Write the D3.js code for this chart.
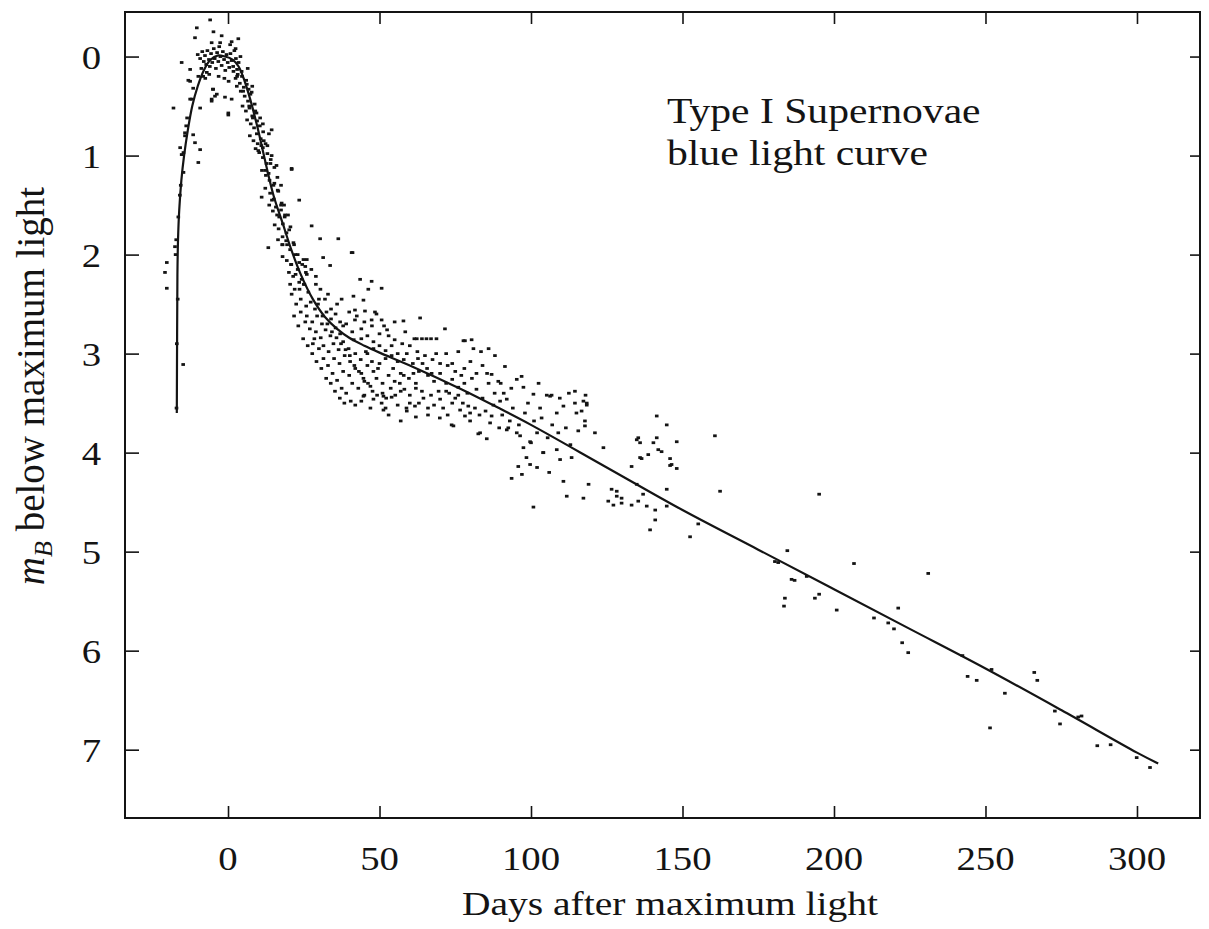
<!DOCTYPE html>
<html>
<head>
<meta charset="utf-8">
<script src="https://cdn.jsdelivr.net/npm/d3@7"></script>
<style>
html,body{margin:0;padding:0;background:#fff;}
</style>
</head>
<body>
<svg id="chart" width="1209" height="929" font-family="Liberation Serif, Times New Roman, Tinos, serif"></svg>
<script>
// ---------- data ----------
const xTicks = [0, 50, 100, 150, 200, 250, 300];
const yTicks = [0, 1, 2, 3, 4, 5, 6, 7];
const xTitle = "Days after maximum light";
const annotationLines = ["Type I Supernovae", "blue light curve"];

// mean light curve (days, magnitudes below maximum)
const fitDays = [-16.9,-16.8,-16.7,-16.5,-16.1,-15.4,-14.5,-13.3,-11.8,-10,-8,-6,-3.5,-1,1.5,3.5,5.5,7.5,10,12,15,18,21,24,28,32,36,40,45,50,60,77,90,100,125,150,175,200,225,250,275,300,307];
const fitMags = [3.6,2.8,2.2,1.85,1.55,1.25,1.0,0.75,0.5,0.3,0.14,0.04,-0.01,0.0,0.03,0.1,0.25,0.45,0.75,1.02,1.4,1.68,1.96,2.2,2.45,2.63,2.75,2.84,2.92,2.99,3.12,3.36,3.56,3.72,4.15,4.58,4.98,5.38,5.78,6.18,6.6,7.03,7.14];

// observed points [day, mag]
const riseObs = [[-20.2,2.08],[-20.8,2.18],[-20.2,2.34],[-14.8,3.11],[-17.5,1.92],[-17.3,2.0],[-17.1,1.85],[-17.0,3.55],[-16.9,2.9],[-16.6,2.45],[-16.4,1.62],[-18,0.52],[-15.3,0.06],[-13.1,0.24],[-14.2,0.77],[-15.8,0.92],[-15.3,0.99],[-14.7,0.97],[-14.7,1.17],[-9.8,1.07],[-9.2,0.94],[-10.9,0.87],[-12.5,0.43],[-11.5,0.32],[-9.2,0.52],[-8.2,0.2],[-12.5,0.13],[-12.5,0.25],[-11.5,0.79],[-14.2,0.8],[-12,0.43],[-10.3,-0.29],[-10.9,-0.19],[-5.9,-0.37],[-4.8,-0.25],[-5.4,-0.14],[-9.8,0.2],[-7,0.16],[-5,0.33],[-3.7,0.38],[-5.4,0.43],[-4.9,0.33],[-4.3,0.4],[-5.4,0.45],[-13.5,0.62],[-13.8,0.7],[-15.6,1.3],[-15.9,1.4]];
const peakObs = [[-10,-0.02],[-9.2,0.02],[-8.5,-0.05],[-8,0.05],[-7.6,-0.01],[-7.2,0.08],[-6.8,-0.06],[-6.3,0.03],[-6,0.1],[-5.6,-0.03],[-5.2,0.06],[-4.7,-0.08],[-4.4,0.02],[-4,0.12],[-3.6,-0.04],[-3.2,0.05],[-2.9,-0.1],[-2.5,0.0],[-2.1,0.09],[-1.7,-0.05],[-1.3,0.03],[-0.9,0.14],[-0.5,-0.02],[-0.1,0.06],[0.4,0.11],[0.8,-0.03],[1.2,0.04],[1.7,0.1],[2.1,-0.06],[2.6,0.02],[3.0,0.13],[3.5,0.06],[-2.6,-0.14],[0.7,-0.12],[3.4,-0.18],[-2.1,-0.21],[-8.8,0.12],[-7.5,0.22],[-6.2,0.18],[1.2,-0.15],[2.5,-0.08],[4.1,0.0],[-1.2,0.22],[0.2,0.25],[-3.1,0.2]];
const earlyDeclineObs = [[1.8,0.15],[2.5,0.22],[3.2,0.18],[3.9,0.27],[4.6,0.2],[5.2,0.31],[6.0,0.24],[6.8,0.33],[2.9,0.3],[4.2,0.35],[5.5,0.4],[6.6,0.45],[7.4,0.38],[4.8,0.5],[5.9,0.55],[7.1,0.52],[8.0,0.6],[8.8,0.48],[9.4,0.57],[6.3,0.64],[7.5,0.68],[8.6,0.72],[9.6,0.65],[10.5,0.7],[7.2,0.8],[8.4,0.85],[9.5,0.78],[10.8,0.83],[11.6,0.76],[12.4,0.88],[9.1,0.93],[10.3,0.97],[11.5,0.92],[13.0,0.98],[14.4,0.74],[1.2,0.43],[0.1,0.59],[-1,0.41],[0.1,0.57],
  [10,0.95],[11.5,1.02],[12.7,1.08],[14.1,1.04],[15.3,1.12],[11.2,1.15],[12.5,1.2],[13.7,1.25],[15,1.3],[16.3,1.22],[12.3,1.33],[13.9,1.38],[15.1,1.44],[16.6,1.36],[17.7,1.48],[13.6,1.5],[14.8,1.56],[16.2,1.6],[17.5,1.55],[18.7,1.62],[15.4,1.7],[16.7,1.74],[18.1,1.69],[19.3,1.78],[20.6,1.72],[16.5,1.85],[17.9,1.9],[19.2,1.86],[20.5,1.95],[21.8,1.9],[18,2.02],[19.4,2.06],[20.9,2.1],[22.2,2.0],[23.5,2.08],[24.9,2.05],[20.1,2.18],[21.5,2.22],[23,2.15],[24.3,2.25],[25.7,2.18],
  [21,1.13],[23.5,1.45],[27.6,1.71],[30.4,1.84],[36.4,1.84],[41.1,1.98],[31.4,2.03],[33.7,2.11],[13.3,1.93],[11.1,1.42],[21,1.14],[17.5,1.3],[18.5,1.5],[19.8,1.6],[25.5,2.12],[14.4,1.0],[16.0,1.1],
  [3,0.2],[4.5,0.15],[5,0.35],[6.2,0.28],[7,0.5],[7.8,0.36],[8.2,0.62],[9,0.55],[9.8,0.88],[10.6,0.62],[11,0.9],[11.8,0.85],[12.3,1.15],[13,0.9],[13.4,1.18],[14,1.08],[14.5,1.45],[15.3,1.28],[15.8,1.52],[16.4,1.35],[16.9,1.62],[17.5,1.5],[18,1.82],[18.8,1.6],[19.5,1.9],[20.2,1.75],[20.8,2.1],[21.6,1.88],[22.3,2.2],[23,2.0],[23.6,2.35],[24.5,2.1],[25.2,2.3],[26,2.2],[8,0.3],[6.5,0.12],[11.5,0.68],[13.5,0.78]];
const shoulderObs = [[18,1.9],[20.5,2.3],[22,2.35],[23.5,2.28],[25,2.3],[26.5,2.38],[24,2.45],[25.8,2.52],[27.3,2.48],[28.7,2.55],[30,2.45],[26,2.62],[27.8,2.68],[29.4,2.62],[31,2.7],[32.5,2.58],[34,2.65],[29,2.78],[30.6,2.84],[32.2,2.76],[33.8,2.82],[35.5,2.74],[37,2.8],[31.5,2.92],[33.2,2.98],[34.8,2.9],[36.5,2.96],[38,2.88],[39.8,2.95],[41.5,2.86],[35,3.05],[36.8,3.1],[38.5,3.02],[40.3,3.08],[42,3.0],[43.8,3.06],[45.5,2.98],[38,3.18],[40,3.22],[42,3.15],[44,3.2],[46,3.12],[48,3.18],[50,3.1],[41,3.3],[43,3.35],[45,3.28],[47,3.33],[49,3.25],[51,3.3],[53,3.22],[55,3.28],[45,3.42],[48,3.46],[51,3.4],[54,3.44],[57,3.38],[60,3.42],[52,3.55],[56,3.52],[59,3.58],[63,3.5],[66,3.55],[29,2.3],[33,2.4],[36,2.5],[37.5,2.45],[40,2.58],[42.5,2.62],[45,2.68],[47.5,2.72],[50,2.8],[52.5,2.76],[55,2.86],[57.5,2.9],[60,2.92],[62.5,2.98],[65,3.02],[67.5,3.06],[70,3.1],[72.5,3.12],[75,3.18],[77,3.22],[43.6,2.25],[47.4,2.27],[50.7,2.34],[46.3,2.35],[41.4,2.42],[44.7,2.46],[41.9,2.56],[45.2,2.57],[48.5,2.58],[41.9,2.66],[47.4,2.66],[50.7,2.66],[57.9,2.67],[63.4,2.64],[71.6,2.75],[62.3,2.85],[64,2.85],[65.5,2.85],[67,2.85],[68.8,2.85],[78.2,2.87],[80.4,2.86],[40.8,1.98],[54,2.92],[56,3.0],[58,3.06],[61,3.1],[63,3.18],[66,3.22],[68,3.28],[70,3.2],[72,3.3],[74,3.26],[76,3.34],[78,3.3],[52,3.05],[48,2.95],[44,2.85],[41,2.78],[38,2.72],[46,3.0],[58,3.22],[62,3.3],[64,3.38],[67,3.42],[70,3.46],[73,3.4],[60,3.5],[53,3.62],[57,3.68],[62,3.64],[47,3.55],[44,3.48],[82.6,3.81],[85.4,3.86],[73.8,3.72],[69.9,3.65],[58.9,3.55],[61.7,3.53],[51.3,3.57],[44.7,3.43],[51.3,3.43],
  [21,2.4],[22.5,2.5],[24,2.58],[25.5,2.68],[27,2.75],[28.5,2.85],[30,2.95],[31.5,3.05],[33,3.12],[34.5,3.2],[36,3.27],[37.5,3.35],[39,3.4],[40.5,3.48],[42,3.52],[26,2.05],[27.5,2.15],[29,2.22],[30.5,2.35],[32,2.45],[34,2.55],[35.5,2.6],[37,2.68],[39,2.7],[21.8,2.62],[23.2,2.72],[24.8,2.85],[26.3,2.92],[27.8,3.0],[29.2,3.08],[30.8,3.15],[32.4,3.25],[33.9,3.3],[35.3,3.38],[36.9,3.45],[38.4,3.5],[28,2.9],[29.7,2.5],[31.2,2.62],[32.8,2.7],[34.3,2.78],[35.8,2.84],[37.3,2.9],[38.8,2.96],[40.2,3.02],[41.7,3.12],[43.2,3.18],[44.7,3.25],[46.2,3.3],[47.7,3.38],[49.2,3.42],[50.7,3.5],[52.2,3.45],[53.7,3.35],[55.2,3.42],[56.7,3.3],[58.2,3.36],[59.7,3.25],[61.2,3.2],[62.7,3.05],[64.2,3.1],[65.7,3.15],[67.2,3.2],[68.7,3.0],[44,2.75],[46,2.82],[48,2.88],[50,2.92],[52,2.97],[54,3.02],[56,3.08],[49,2.6],[51.5,2.72],[53,2.82],[55,2.68],[58.5,2.78],[61.5,2.85],[59,3.0],[47.5,3.08],[49.5,3.15],[54.5,3.15],[57,3.2]];
const plateauObs = [[77.7,2.87],[88.1,3.02],[91.4,3.13],[87,3.21],[89.2,3.28],[95.3,3.26],[96.9,3.23],[97.5,3.34],[100.8,3.41],[105.2,3.42],[106.8,3.42],[103,3.55],[108.5,3.6],[110.7,3.53],[114.5,3.5],[117.3,3.48],[118.4,3.5],[115,3.6],[116.7,3.58],[117.8,3.68],[117.8,3.73],[121.1,3.8],[115.6,3.78],[92,3.46],[87.6,3.52],[89.8,3.48],[87,3.63],[95.3,3.8],[96.4,3.83],[92.5,3.75],[74.4,3.73],[78.2,3.63],[79.9,3.6],[79.9,3.68],[83.2,3.8],[76.6,3.57],[79.3,3.53],[72,3.0],[74,3.1],[76,2.98],[78,3.15],[80,3.08],[82,3.2],[84,3.12],[72,3.38],[75,3.45],[79,3.4],[82,3.36],[84,3.45],[86,3.3],[91,3.4],[94,3.55],[98,3.6],[101,3.68],[100,3.9],[104,4.0],[108.5,3.97],[92,3.77],[99.7,3.89],[104.1,4.0],[113.4,4.05],[109.6,4.07],[95.8,4.14],[99.7,4.12],[93.6,4.26],[110.7,4.29],[119,4.32],[126.6,4.37],[128.3,4.44],[111.8,4.44],[117.3,4.46],[106.3,3.43],[118.4,3.52],[100.8,4.55],
  [62,3.35],[64.5,3.45],[66,3.62],[68,3.52],[69.5,3.38],[71,3.55],[72.5,3.62],[74,3.5],[76,3.42],[77.5,3.5],[80.5,3.25],[81.5,3.55],[83,3.62],[85,3.58],[86.5,3.7],[88,3.4],[89.5,3.75],[90.5,3.62],[93,3.68],[96,3.72],[97.5,3.95],[99,3.5],[102,3.8],[103.5,3.65],[105.5,3.85],[107,3.72],[109,3.8],[111.5,3.75],[113,3.92],[86,2.95],[83.5,2.98],[81,2.95],[85.5,3.2],[90,3.3],[93.5,3.35],[102.5,3.3],[109.5,3.45],[112.5,3.4],[114.5,3.38],[118,3.42],[98.5,4.05],[102,4.15],[106,4.2],[97,4.22]];
const knotObs = [[123.9,3.95],[134.9,3.87],[135.4,3.85],[140.4,3.9],[141.5,3.85],[148.1,3.89],[142,3.97],[143.1,3.99],[138.7,4.02],[136.5,4.06],[145.9,4.06],[145.9,4.13],[148.1,4.16],[133.2,4.14],[141.5,3.63],[144.8,3.72],[128.3,4.39],[125.5,4.49],[127.2,4.53],[129.9,4.46],[129.9,4.51],[133.2,4.53],[135.4,4.49],[138.2,4.54],[137,4.42],[144.8,4.37],[144.8,4.54],[141,4.58],[141,4.68],[139.3,4.78],[155.2,4.72],[152.5,4.85],[160.7,3.83],[162.4,4.39],[136,3.9],[146.4,4.12],[136,4.05],[134.9,4.32]];
const tailObs = [[184.6,4.99],[180.5,5.1],[181.6,5.11],[186,5.28],[187,5.29],[183.8,5.47],[183.5,5.55],[191,5.25],[193.7,5.47],[195.1,5.43],[195.1,4.42],[200.9,5.59],[206.6,5.12],[213.2,5.67],[217.9,5.72],[219.8,5.78],[221.2,5.57],[222.5,5.92],[224.5,6.02],[231.1,5.22],[242.4,6.05],[244.1,6.26],[247.1,6.3],[251.5,6.78],[252,6.19],[256.4,6.43],[266.1,6.22],[267.1,6.3],[272.9,6.61],[274.6,6.74],[280.6,6.67],[281.7,6.66],[286.9,6.96],[291.3,6.95],[299.9,7.08],[304.3,7.18]];

// ---------- layout ----------
const frame = {left:125, right:1200, top:12, bottom:818};
const svg = d3.select("#chart");
const x = d3.scaleLinear().domain([-34, 320.8]).range([frame.left, frame.right]);
const y = d3.scaleLinear().domain([-0.45, 7.69]).range([frame.top, frame.bottom]);
const ink = "#141414";
const sx = 1.14; // horizontal stretch of the scanned type
const fontFam = "Liberation Serif, Times New Roman, Tinos, serif";

// frame
svg.append("rect").attr("x", frame.left).attr("y", frame.top)
  .attr("width", frame.right - frame.left).attr("height", frame.bottom - frame.top)
  .attr("fill", "none").attr("stroke", ink).attr("stroke-width", 2);

// inward ticks via axes
const tickStyle = g => { g.select(".domain").remove(); g.selectAll("line").attr("stroke", ink).attr("stroke-width", 1.6); g.selectAll("text").remove(); };
svg.append("g").attr("transform", `translate(0,${frame.bottom})`)
  .call(d3.axisTop(x).tickValues(xTicks).tickSize(12)).call(tickStyle);
svg.append("g").attr("transform", `translate(0,${frame.top})`)
  .call(d3.axisBottom(x).tickValues(xTicks).tickSize(12)).call(tickStyle);
svg.append("g").attr("transform", `translate(${frame.left},0)`)
  .call(d3.axisRight(y).tickValues(yTicks).tickSize(14)).call(tickStyle);
svg.append("g").attr("transform", `translate(${frame.right},0)`)
  .call(d3.axisLeft(y).tickValues(yTicks).tickSize(10)).call(tickStyle);

const txt = sel => sel.attr("font-family", fontFam).attr("fill", ink);

// tick labels
svg.append("g").selectAll("text").data(xTicks).join("text").call(txt)
  .attr("transform", d => `translate(${x(d)},870) scale(${sx},1)`)
  .attr("text-anchor", "middle").attr("font-size", 34).text(d => d);
svg.append("g").selectAll("text").data(yTicks).join("text").call(txt)
  .attr("transform", d => `translate(101,${y(d) + 12}) scale(${sx},1)`)
  .attr("text-anchor", "end").attr("font-size", 34).text(d => d);

// axis titles
svg.append("text").call(txt).attr("transform", `translate(670,915) scale(${sx},1)`)
  .attr("text-anchor", "middle").attr("font-size", 34.7).text(xTitle);
const yt = svg.append("text").call(txt).attr("transform", "translate(44,386) rotate(-90)")
  .attr("text-anchor", "middle").attr("font-size", 39);
yt.append("tspan").attr("font-style", "italic").text("m");
yt.append("tspan").attr("font-style", "italic").attr("font-size", 26).attr("dy", 8).text("B");
yt.append("tspan").attr("dy", -8).text(" below maximum light");

// annotation
svg.append("g").selectAll("text").data(annotationLines).join("text").call(txt)
  .attr("transform", (d, i) => `translate(667,${123 + i * 42}) scale(${sx},1)`)
  .attr("font-size", 36.5).text(d => d);

// fit curve
const fit = fitDays.map((d, i) => [d, fitMags[i]]);
svg.append("path").datum(fit)
  .attr("fill", "none").attr("stroke", ink).attr("stroke-width", 2.2)
  .attr("d", d3.line().x(d => x(d[0])).y(d => y(d[1])).curve(d3.curveCatmullRom.alpha(0.5)));

// observations
const observations = [].concat(riseObs, peakObs, earlyDeclineObs, shoulderObs, plateauObs, knotObs, tailObs);
svg.append("g").selectAll("rect").data(observations).join("rect")
  .attr("x", d => x(d[0]) - 1.8).attr("y", d => y(d[1]) - 1.4)
  .attr("width", 3.6).attr("height", 2.8).attr("fill", ink);
</script>
</body>
</html>
